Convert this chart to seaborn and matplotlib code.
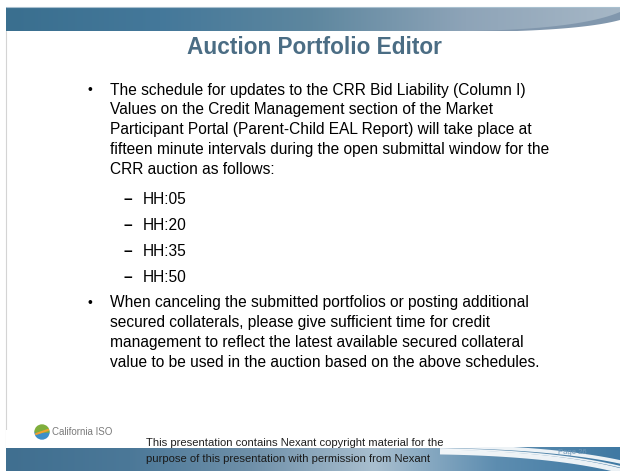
import numpy as np
import matplotlib.pyplot as plt
import seaborn as sns
from matplotlib.colors import LinearSegmentedColormap
from matplotlib.patches import Polygon, Wedge

sns.set_theme(style="white")
plt.rcParams['font.family'] = ['Liberation Sans', 'DejaVu Sans']

# slide content
title = "Auction Portfolio Editor"
bullet1 = [
    "The schedule for updates to the CRR Bid Liability (Column I)",
    "Values on the Credit Management section of the Market",
    "Participant Portal (Parent-Child EAL Report) will take place at",
    "fifteen minute intervals during the open submittal window for the",
    "CRR auction as follows:",
]
sub_items = ["HH:05", "HH:20", "HH:35", "HH:50"]
bullet2 = [
    "When canceling the submitted portfolios or posting additional",
    "secured collaterals, please give sufficient time for credit",
    "management to reflect the latest available secured collateral",
    "value to be used in the auction based on the above schedules.",
]
footer = [
    "This presentation contains Nexant copyright material for the",
    "purpose of this presentation with permission from Nexant",
]
brand = "California ISO"
page = "Page 26"

W, H = 620, 471
fig = plt.figure(figsize=(6.2, 4.71), dpi=100)
ax = fig.add_axes([0, 0, 1, 1])
ax.set_xlim(0, W)
ax.set_ylim(H, 0)
ax.axis('off')

t = np.linspace(0, 1, 60)
grad = np.linspace(0, 1, 256).reshape(1, -1)


def bez(p0, p1, p2):
    return (1 - t) ** 2 * p0 + 2 * (1 - t) * t * p1 + t ** 2 * p2


# top banner
top_cmap = LinearSegmentedColormap.from_list(
    "top", ["#3a6f8f", "#44789a", "#5e879f", "#8ea4b8", "#a6b7c6"])
ax.imshow(grad, cmap=top_cmap, extent=[6, W, 31, 7], aspect='auto', zorder=1)
cx = bez(470, 580, 620)
ax.add_patch(Polygon(np.column_stack([cx, bez(31, 29, 12)]).tolist() + [[620, 31]],
                     closed=True, color="#8197ad", zorder=2, lw=0))
ax.add_patch(Polygon(np.column_stack([cx, bez(32, 31, 20)]).tolist() + [[620, 32]],
                     closed=True, color="white", zorder=3, lw=0))
ax.plot([6, W], [7, 7], color="#a9c0cf", lw=0.8, zorder=4)

# slide left border
ax.plot([6, 6], [31, 448], color="#d4d4d4", lw=0.8, zorder=1)

# bottom banner
bot_cmap = LinearSegmentedColormap.from_list(
    "bot", ["#406f90", "#4b7898", "#6f90a9", "#a9bfcf", "#5d8db0", "#3f79a3"])
ax.imshow(grad, cmap=bot_cmap, extent=[6, W, H, 447], aspect='auto', zorder=1)
ax.add_patch(Polygon([[6, 448], [470, 448], [540, 443], [620, 443], [620, 430], [6, 430]],
                     closed=True, color="white", zorder=2, lw=0))
for y0, y1, lw in [(446, 463, 2.5), (452, 472, 3.5), (449, 468, 1.2)]:
    ax.plot(bez(440, 560, 625), bez(y0, y0 + 2, y1), color="white", lw=lw,
            alpha=0.9, zorder=3, solid_capstyle='butt')

# title
ax.text(314, 47, title, ha='center', va='center', fontsize=16.3,
        fontweight='bold', color="#4b6d84", zorder=5)

# first bullet
fs = 11.2
line_h = 19.8
ax.text(88, 90, "\u2022", ha='left', va='center', fontsize=10, color="black")
for i, line in enumerate(bullet1):
    ax.text(110, 90 + i * line_h, line, ha='left', va='center', fontsize=fs, color="black")
for i, item in enumerate(sub_items):
    y = 199 + i * 26
    ax.text(124, y, "\u2013", ha='left', va='center', fontsize=fs,
            fontweight='bold', color="black")
    ax.text(143, y, item, ha='left', va='center', fontsize=fs, color="black")

# second bullet
ax.text(88, 303, "\u2022", ha='left', va='center', fontsize=10, color="black")
for i, line in enumerate(bullet2):
    ax.text(110, 303 + i * line_h, line, ha='left', va='center', fontsize=fs, color="black")

# logo + brand
ax.add_patch(Wedge((42, 432), 7, 0, 180, color="#3c8fc9", zorder=5))
ax.add_patch(Wedge((42, 432), 7, 180, 360, color="#7fae3c", zorder=5))
ax.plot([36, 48], [434, 430], color="#f0a030", lw=1.5, zorder=6)
ax.text(52, 432, brand, ha='left', va='center', fontsize=7, color="#7a7a7a", zorder=5)

# footer
ax.text(146, 443, footer[0], ha='left', va='center', fontsize=8.1, color="#202020", zorder=5)
ax.text(146, 459, footer[1], ha='left', va='center', fontsize=8.1, color="#1a1a1a", zorder=5)
ax.text(572, 452, page, ha='center', va='center', fontsize=5.5, color="#6f97b8", zorder=5)

fig.savefig("out.png", dpi=100)
